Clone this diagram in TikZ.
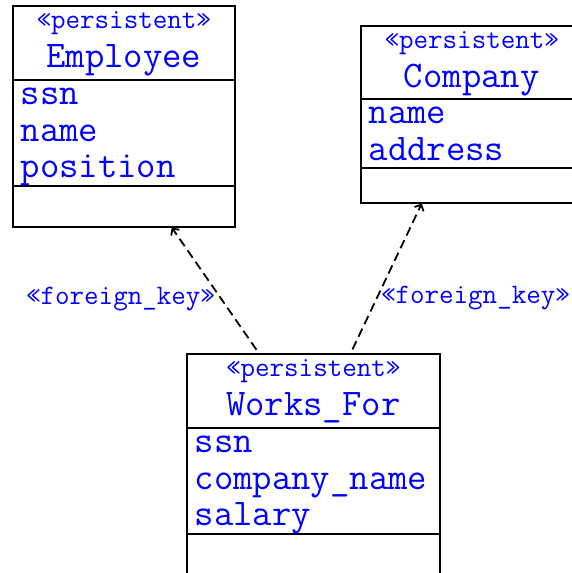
\documentclass[tikz,border=0pt]{standalone}
\usepackage{fontspec}
\usetikzlibrary{shapes.multipart,arrows.meta}

\newcommand{\stereofont}{\ttfamily\fontsize{28.2}{30}\selectfont}
\newcommand{\attrfont}{\ttfamily\fontsize{37.6}{40}\selectfont}

% compartments of a class box: width, height, ...
\newcommand{\classhead}[4]{%
  \vbox to #2{\offinterlineskip\hsize=#1\kern22pt
    \hbox to #1{\hss\smash{\stereofont«#3»}\hss}\kern39pt
    \hbox to #1{\hss\smash{\attrfont #4}\hss}\vss}}
\newcommand{\classattrs}[3]{%
  \vbox to #2{\offinterlineskip\hsize=#1\kern24pt
    \foreach \attrname [count=\k] in {#3}{%
      \ifnum\k>1 \kern36.5pt\fi
      \hbox to #1{\kern8pt\smash{\attrfont\attrname}\hss}}%
    \vss}}
\newcommand{\classops}[2]{\vbox to #2{\hbox to #1{}\vss}}

\tikzset{
  classbox/.style={rectangle split, rectangle split parts=3, draw,
    line width=1.5pt, inner sep=0pt, text=blue, anchor=north west},
  fkey/.style={dash pattern=on 9pt off 5pt, line width=1.8pt,
    shorten <=4pt, -{Straight Barb[length=5pt,width=10pt]}},
  fklabel/.style={font=\stereofont, text=blue, inner sep=0pt}
}

\begin{document}
\begin{tikzpicture}[x=1pt,y=1pt]
  \useasboundingbox (0,0) rectangle (571,-573);

  \node[classbox] (employee) at (12,-5)
    {\classhead{222pt}{72.5pt}{persistent}{Employee}
     \nodepart{two}\classattrs{222pt}{104.5pt}{ssn,name,position}
     \nodepart{three}\classops{222pt}{39.5pt}};
  \node[classbox] (company) at (360,-25)
    {\classhead{222pt}{71.5pt}{persistent}{Company}
     \nodepart{two}\classattrs{222pt}{67.5pt}{name,address}
     \nodepart{three}\classops{222pt}{33.5pt}};
  \node[classbox] (worksfor) at (186,-353)
    {\classhead{253pt}{72.5pt}{persistent}{Works\_For}
     \nodepart{two}\classattrs{253pt}{104.5pt}{ssn,company\_name,salary}
     \nodepart{three}\classops{253pt}{40pt}};

  \draw[fkey] ([xshift=-54.5pt]worksfor.north) --
    node[fklabel, pos=0.39, anchor=base east, xshift=-9pt] {«foreign\_key»}
    ([xshift=48pt]employee.south);
  \draw[fkey] ([xshift=37.5pt]worksfor.north) --
    node[fklabel, pos=0.33, anchor=base west, xshift=6pt] {«foreign\_key»}
    ([xshift=-50pt]company.south);
\end{tikzpicture}
\end{document}
